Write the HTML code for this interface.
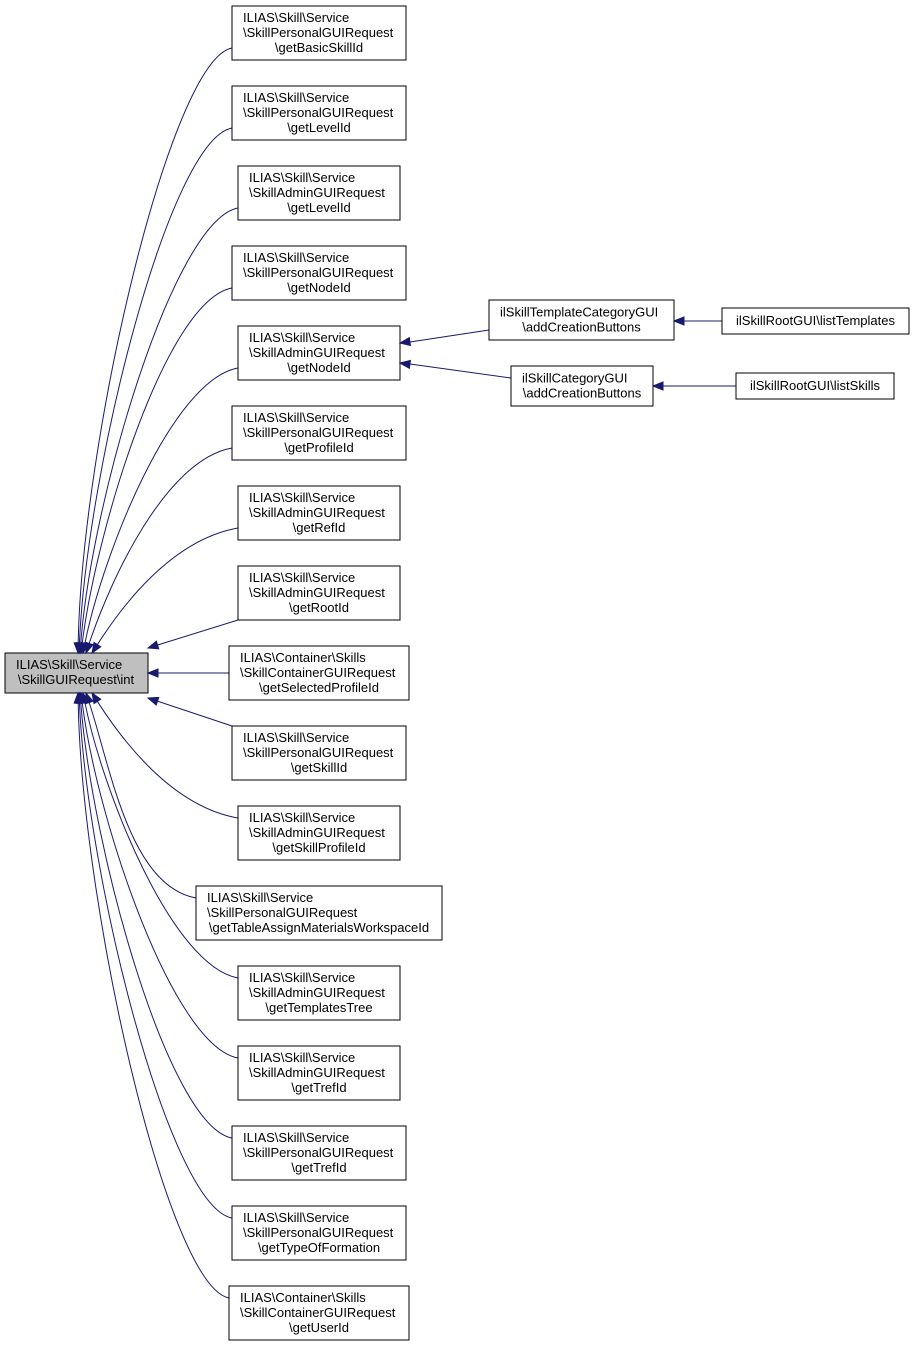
<!DOCTYPE html>
<html><head><meta charset="utf-8"><style>
html,body{margin:0;padding:0;background:#fff;}
svg{display:block;}
text{font-family:"Liberation Sans",Helvetica,Arial,sans-serif;font-size:13px;fill:#000;}
</style></head><body>
<svg id="s" width="915" height="1347" viewBox="0 0 915 1347" xmlns="http://www.w3.org/2000/svg">
<rect x="5" y="653" width="143" height="40" fill="#bfbfbf" stroke="#000"/>
<text x="16" y="669">ILIAS\Skill\Service</text>
<text x="76" y="684" text-anchor="middle">\SkillGUIRequest\int</text>
</svg>
<script>
var s=document.getElementById('s'),NS='http://www.w3.org/2000/svg';
function el(t,a,txt){var e=document.createElementNS(NS,t);for(var k in a)e.setAttribute(k,a[k]);if(txt)e.textContent=txt;s.appendChild(e);return e;}
function box(x,y,w,h,lines,center){el('rect',{x:x,y:y,width:w,height:h,fill:'#fff',stroke:'#000'});var n=lines.length,y0=y+h/2-(n-1)*7.5+4;lines.forEach(function(l,i){if(center||i==n-1)el('text',{x:x+w/2,y:y0+i*15,'text-anchor':'middle'},l);else el('text',{x:x+11,y:y0+i*15},l);});}
function arrow(px,py,ex,ey){var dx=ex-px,dy=ey-py,L=Math.sqrt(dx*dx+dy*dy);dx/=L;dy/=L;var bx=ex-dx*10,by=ey-dy*10;el('polygon',{points:ex+','+ey+' '+(bx-dy*4)+','+(by+dx*4)+' '+(bx+dy*4)+','+(by-dx*4),fill:'#191970',stroke:'#191970'});}
var P='ILIAS\\Skill\\Service',C='ILIAS\\Container\\Skills';
var nodes=[
[232,174,P,'\\SkillPersonalGUIRequest','\\getBasicSkillId'],
[232,174,P,'\\SkillPersonalGUIRequest','\\getLevelId'],
[238,162,P,'\\SkillAdminGUIRequest','\\getLevelId'],
[232,174,P,'\\SkillPersonalGUIRequest','\\getNodeId'],
[238,162,P,'\\SkillAdminGUIRequest','\\getNodeId'],
[232,174,P,'\\SkillPersonalGUIRequest','\\getProfileId'],
[238,162,P,'\\SkillAdminGUIRequest','\\getRefId'],
[238,162,P,'\\SkillAdminGUIRequest','\\getRootId'],
[229,180,C,'\\SkillContainerGUIRequest','\\getSelectedProfileId'],
[232,174,P,'\\SkillPersonalGUIRequest','\\getSkillId'],
[238,162,P,'\\SkillAdminGUIRequest','\\getSkillProfileId'],
[196,246,P,'\\SkillPersonalGUIRequest','\\getTableAssignMaterialsWorkspaceId'],
[238,162,P,'\\SkillAdminGUIRequest','\\getTemplatesTree'],
[238,162,P,'\\SkillAdminGUIRequest','\\getTrefId'],
[232,174,P,'\\SkillPersonalGUIRequest','\\getTrefId'],
[232,174,P,'\\SkillPersonalGUIRequest','\\getTypeOfFormation'],
[229,180,C,'\\SkillContainerGUIRequest','\\getUserId']];
var endx=[78,79,80,81,83,86,92,0,0,0,92,86,83,81,80,79,78];
nodes.forEach(function(n,i){
 var top=6+i*80,L=n[0];
 if(i==7){el('path',{d:'M'+L+',620 L148,648',fill:'none',stroke:'#191970'});arrow(L,620,148,648);}
 else if(i==8){el('path',{d:'M'+L+','+(top+27)+' L158,673',fill:'none',stroke:'#191970'});arrow(L,top+27,148,673);}
 else if(i==9){el('path',{d:'M'+L+',726 L148,698',fill:'none',stroke:'#191970'});arrow(L,726,148,698);}
 else{
  var up=i<8,cy=up?top+42:top+12,ey=up?653:693,ex=endx[i];
  var c1x=L-70+Math.abs(i-8)*1,c1y=cy+(up?12:-12);
  var c2x=ex+4+ (8-Math.abs(i-8))*4,c2y=ey+(cy-ey)*0.35;
  var dx=c2x-ex,dy=c2y-ey,l=Math.sqrt(dx*dx+dy*dy);
  var bx=ex+dx/l*10,by=ey+dy/l*10;
  el('path',{d:'M'+L+','+cy+' C'+c1x+','+c1y+' '+c2x+','+c2y+' '+bx+','+by,fill:'none',stroke:'#191970'});
  arrow(c2x,c2y,ex,ey);
 }
 box(L,top,n[1],54,[n[2],n[3],n[4]]);
});
el('path',{d:'M489,330 L410,342',fill:'none',stroke:'#191970'});arrow(489,330,400,343);
el('path',{d:'M511,378 L410,364',fill:'none',stroke:'#191970'});arrow(511,378,400,363);
el('path',{d:'M722,321 L684,321',fill:'none',stroke:'#191970'});arrow(722,321,674,321);
el('path',{d:'M736,386 L663,386',fill:'none',stroke:'#191970'});arrow(736,386,653,386);
box(489,300,185,40,['ilSkillTemplateCategoryGUI','\\addCreationButtons']);
box(511,366,142,40,['ilSkillCategoryGUI','\\addCreationButtons']);
box(722,308,187,26,['ilSkillRootGUI\\listTemplates'],true);
box(736,373,158,26,['ilSkillRootGUI\\listSkills'],true);
</script>
</body></html>
